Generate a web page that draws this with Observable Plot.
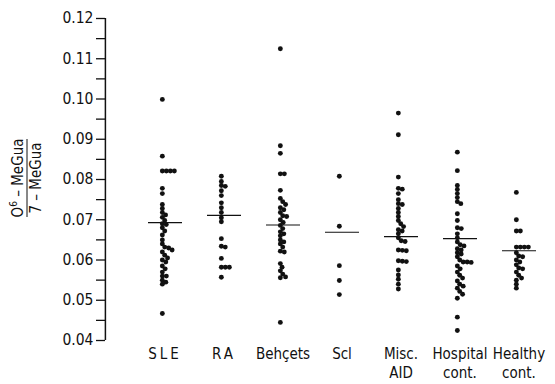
<!DOCTYPE html>
<html><head><meta charset="utf-8">
<script src="https://cdn.jsdelivr.net/npm/d3@7"></script>
<script src="https://cdn.jsdelivr.net/npm/@observablehq/plot@0.6"></script>
<style>
html,body{margin:0;padding:0;background:#fff;}
#chart{position:relative;width:555px;height:384px;}
</style></head><body><div id="chart"></div>
<script>
const categories = ["SLE", "RA", "Behçets", "Scl", "Misc.\nAID", "Hospital\ncont.", "Healthy\ncont."];

const sleValues = [0.0999, 0.0858, 0.0821, 0.0821, 0.0821, 0.0821, 0.0778, 0.0765, 0.0738, 0.0728, 0.0718, 0.0712,
  0.0706, 0.0698, 0.0690, 0.0688, 0.0680, 0.0672, 0.0662, 0.0650, 0.0640, 0.0632, 0.0630, 0.0625, 0.0620, 0.0612,
  0.0605, 0.0600, 0.0595, 0.0585, 0.0578, 0.0570, 0.0560, 0.0560, 0.0550, 0.0545, 0.0540, 0.0467];
const raValues = [0.0808, 0.0795, 0.0785, 0.0783, 0.0772, 0.0760, 0.0742, 0.0730, 0.0718, 0.0705, 0.0695,
  0.0653, 0.0634, 0.0632, 0.0604, 0.0582, 0.0582, 0.0582, 0.0557];
const behcetsValues = [0.1125, 0.0884, 0.0865, 0.0814, 0.0814, 0.0773, 0.0753, 0.0745, 0.0738, 0.0730, 0.0725,
  0.0718, 0.0710, 0.0708, 0.0700, 0.0693, 0.0686, 0.0678, 0.0670, 0.0665, 0.0660, 0.0650, 0.0645, 0.0640, 0.0632,
  0.0622, 0.0620, 0.0591, 0.0582, 0.0573, 0.0565, 0.0558, 0.0556, 0.0445];
const sclValues = [0.0808, 0.0684, 0.0586, 0.0549, 0.0514];
const miscValues = [0.0965, 0.0911, 0.0806, 0.0778, 0.0776, 0.0765, 0.0750, 0.0740, 0.0738, 0.0728, 0.0718,
  0.0708, 0.0698, 0.0690, 0.0683, 0.0675, 0.0672, 0.0665, 0.0655, 0.0648, 0.0646, 0.0625, 0.0624, 0.0623,
  0.0598, 0.0597, 0.0596, 0.0575, 0.0563, 0.0552, 0.0540, 0.0528];
const hospitalValues = [0.0868, 0.0822, 0.0785, 0.0775, 0.0765, 0.0755, 0.0745, 0.0740, 0.0715, 0.0698, 0.0680,
  0.0678, 0.0665, 0.0655, 0.0645, 0.0638, 0.0635, 0.0628, 0.0625, 0.0618, 0.0615, 0.0608, 0.0600, 0.0595, 0.0595,
  0.0594, 0.0585, 0.0578, 0.0570, 0.0562, 0.0555, 0.0548, 0.0540, 0.0535, 0.0530, 0.0522, 0.0515, 0.0505, 0.0458, 0.0425];
const healthyValues = [0.0768, 0.0700, 0.0672, 0.0672, 0.0632, 0.0632, 0.0632, 0.0632, 0.0618, 0.0610, 0.0608,
  0.0600, 0.0595, 0.0588, 0.0580, 0.0578, 0.0570, 0.0562, 0.0555, 0.0550, 0.0540, 0.0530];

const groupMeans = [0.0693, 0.0711, 0.0687, 0.0669, 0.0658, 0.0653, 0.0623];

const yTicks = [0.04, 0.05, 0.06, 0.07, 0.08, 0.09, 0.10, 0.11, 0.12];
const yMinorTicks = [0.045, 0.055, 0.065, 0.075, 0.085, 0.095, 0.105, 0.115];

const valuesByGroup = [sleValues, raValues, behcetsValues, sclValues, miscValues, hospitalValues, healthyValues];
const points = categories.flatMap((c, i) => valuesByGroup[i].map(v => ({group: c, value: v})));
const means = categories.map((c, i) => ({group: c, mean: groupMeans[i]}));

const FONT = '"DejaVu Sans Condensed","Liberation Sans Narrow",sans-serif';
const ink = "#111";

const chart = Plot.plot({
  width: 555, height: 384,
  marginLeft: 104, marginRight: 36.6, marginTop: 18, marginBottom: 44,
  style: {fontFamily: FONT, fontSize: "15px", background: "#fff", color: ink},
  fx: {domain: categories, paddingInner: 0, paddingOuter: 0, label: null},
  y: {domain: [0.04, 0.12], label: null},
  marks: [
    Plot.axisY(yTicks, {tickSize: 9, tickPadding: 3, tickFormat: d3.format(".2f"), fontSize: 15.5, label: null, strokeWidth: 1.3}),
    Plot.axisY(yMinorTicks, {tickSize: 9, tickFormat: () => "", label: null, strokeWidth: 1.3}),
    Plot.axisFx({anchor: "bottom", tickSize: 0, tickPadding: 5, dx: 30, fontSize: 15, lineHeight: 1.28, label: null}),
    Plot.ruleX([0], {x: null, fx: () => categories[0], y1: yTicks[0], y2: yTicks[yTicks.length - 1], dx: -29.6, strokeWidth: 1.5, stroke: ink}),
    Plot.tickY(means, {fx: "group", y: "mean", dx: 43, insetRight: 25, strokeWidth: 1.2, stroke: ink}),
    Plot.dot(points, Plot.dodgeX({anchor: "left", padding: -0.9}, {fx: "group", y: "value", r: 2.45, fill: ink, dx: 55.3}))
  ]
});

document.getElementById("chart").appendChild(chart);

// letter-spaced abbreviations as in the original
d3.select(chart).selectAll("text").filter(function () { return this.textContent === "SLE" || this.textContent === "RA"; })
  .style("letter-spacing", "3px");

// fractional y-axis label
const svg = d3.select(chart);
const g = svg.append("g").attr("transform", "translate(27,178) rotate(-90)")
  .attr("font-family", FONT).attr("font-size", 15).attr("fill", ink).attr("text-anchor", "middle");
const num = g.append("text").attr("y", -4);
num.append("tspan").text("O");
num.append("tspan").attr("dy", -6).attr("font-size", 10).text("6");
num.append("tspan").attr("dy", 6).text(" – MeGua");
g.append("line").attr("x1", -39).attr("x2", 39).attr("y1", 0).attr("y2", 0).attr("stroke", ink).attr("stroke-width", 1);
g.append("text").attr("y", 14).text("7 – MeGua");
</script>
</body></html>
